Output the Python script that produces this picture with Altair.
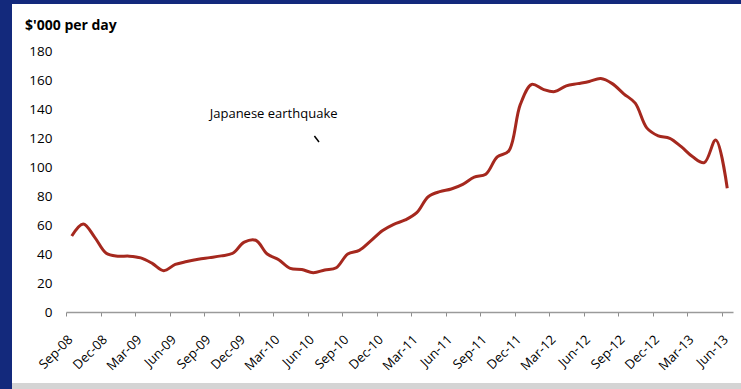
import altair as alt
import pandas as pd

months = ["Sep-08", "Oct-08", "Nov-08", "Dec-08", "Jan-09", "Feb-09", "Mar-09", "Apr-09",
          "May-09", "Jun-09", "Jul-09", "Aug-09", "Sep-09", "Oct-09", "Nov-09", "Dec-09",
          "Jan-10", "Feb-10", "Mar-10", "Apr-10", "May-10", "Jun-10", "Jul-10", "Aug-10",
          "Sep-10", "Oct-10", "Nov-10", "Dec-10", "Jan-11", "Feb-11", "Mar-11", "Apr-11",
          "May-11", "Jun-11", "Jul-11", "Aug-11", "Sep-11", "Oct-11", "Nov-11", "Dec-11",
          "Jan-12", "Feb-12", "Mar-12", "Apr-12", "May-12", "Jun-12", "Jul-12", "Aug-12",
          "Sep-12", "Oct-12", "Nov-12", "Dec-12", "Jan-13", "Feb-13", "Mar-13", "Apr-13",
          "May-13", "Jun-13"]
rates = [52.4, 60.7, 51.5, 40.5, 38.5, 38.5, 37.3, 33.5, 28.5, 32.8, 34.8, 36.4, 37.5, 38.7,
         40.5, 48.2, 49.5, 40, 36, 30.1, 29.3, 27.1, 29, 30.5, 40, 42.5, 49, 56, 60.5, 63.5,
         68.5, 79.5, 83, 84.8, 88, 93, 95, 107, 111, 143, 157, 153.5, 152, 156, 157.5, 159,
         161, 157.5, 150.5, 144, 127, 121.5, 119.8, 114, 107, 103, 118.6, 85.3]
tick_labels = ["Sep-08", "Dec-08", "Mar-09", "Jun-09", "Sep-09", "Dec-09", "Mar-10", "Jun-10",
               "Sep-10", "Dec-10", "Mar-11", "Jun-11", "Sep-11", "Dec-11", "Mar-12", "Jun-12",
               "Sep-12", "Dec-12", "Mar-13", "Jun-13"]
y_ticks = [0, 20, 40, 60, 80, 100, 120, 140, 160, 180]

annotation_text = ["Japanese earthquake"]
annotation_pos = [12.5, 133.8]
marker_x = [21.6, 22.0]
marker_y = [121.4, 117.2]

FONT = "Open Sans"
NAVY = "#13297c"

df = pd.DataFrame({"month": months, "rate": rates})
df["pos"] = [i + 0.5 for i in range(len(months))]

label_expr = "[" + ",".join(f"'{l}'" for l in tick_labels) + "][round(datum.value/3)]"

xscale = alt.Scale(domain=[0, 58], nice=False, zero=False)
yscale = alt.Scale(domain=[0, 180], nice=False)

x_axis = alt.Axis(values=list(range(0, 58, 3)), labelExpr=label_expr, labelAngle=-45,
                  labelAlign="right", labelBaseline="top", labelPadding=17,
                  tickSize=4, tickColor="#8c8c8c", domainColor="#9a9a9a", domainWidth=1.5,
                  labelFont=FONT, labelFontSize=13, labelColor="#000", grid=False,
                  labelOverlap=False, labelBound=False, labelFlush=False, title=None)
y_axis = alt.Axis(values=y_ticks, domain=False, ticks=False, grid=False, labelPadding=14,
                  labelFont=FONT, labelFontSize=13.5, labelColor="#000",
                  labelOverlap=False, title=None)

line = alt.Chart(df).mark_line(color="#a5281e", strokeWidth=3, interpolate="catmull-rom").encode(
    x=alt.X("pos:Q", scale=xscale, axis=x_axis),
    y=alt.Y("rate:Q", scale=yscale, axis=y_axis),
)

ann = alt.Chart(pd.DataFrame({"t": annotation_text, "x": [annotation_pos[0]], "y": [annotation_pos[1]]})).mark_text(
    align="left", baseline="alphabetic", font=FONT, fontSize=13, color="#000"
).encode(x=alt.X("x:Q", scale=xscale, axis=x_axis), y=alt.Y("y:Q", scale=yscale, axis=y_axis), text="t:N")

marker = alt.Chart(pd.DataFrame({"x": [marker_x[0]], "x2": [marker_x[1]],
                                 "y": [marker_y[0]], "y2": [marker_y[1]]})).mark_rule(
    color="#000", strokeWidth=1.5
).encode(x=alt.X("x:Q", scale=xscale, axis=x_axis), x2="x2:Q",
         y=alt.Y("y:Q", scale=yscale, axis=y_axis), y2="y2:Q")

one = alt.Data(values=[{"a": 1}])
left_bar = alt.Chart(one).mark_rect(color=NAVY).encode(
    x=alt.value(-66), x2=alt.value(-54), y=alt.value(-51), y2=alt.value(338))
top_bar = alt.Chart(one).mark_rect(color=NAVY).encode(
    x=alt.value(-66), x2=alt.value(675), y=alt.value(-51), y2=alt.value(-47))
bottom_bar = alt.Chart(one).mark_rect(color="#d4d4d4").encode(
    x=alt.value(-54), x2=alt.value(675), y=alt.value(332), y2=alt.value(338))
ytitle = alt.Chart(one).mark_text(align="left", baseline="alphabetic", font=FONT, fontSize=14,
                                  fontWeight="bold", color="#000").encode(
    x=alt.value(-41), y=alt.value(-21), text=alt.value("$'000 per day"))

chart = alt.layer(line, ann, marker, left_bar, top_bar, bottom_bar, ytitle).properties(
    width=667, height=261,
    autosize=alt.AutoSizeParams(type="none"),
    padding={"left": 66, "top": 51, "right": 8, "bottom": 77},
    background="white",
).configure_view(stroke=None)

chart.save("out.html", embed_options={"renderer": "svg", "actions": False})
